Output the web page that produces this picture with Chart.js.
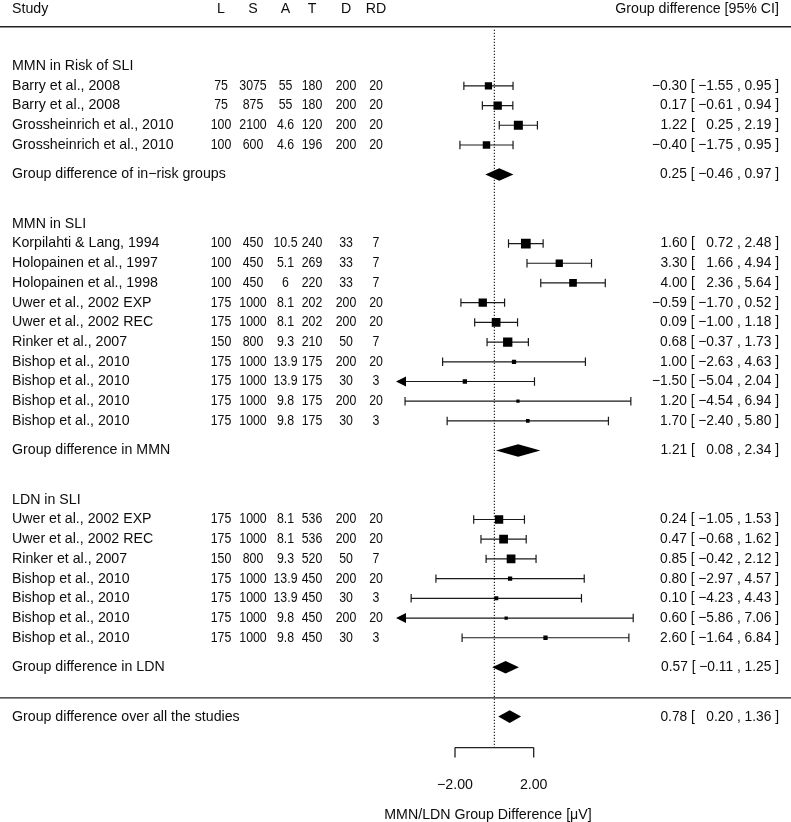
<!DOCTYPE html>
<html>
<head>
<meta charset="utf-8">
<title>MMN/LDN group difference forest plot</title>
<script src="https://cdn.jsdelivr.net/npm/chart.js@4.4.1/dist/chart.umd.min.js"></script>
<style>
    html, body { margin: 0; padding: 0; background: #fff; }
    #wrap { width: 791px; height: 822px; position: relative; }
</style>
</head>
<body>
<div id="wrap"><canvas id="forest"></canvas></div>
<script>
// --- Data ---
const columnHeaders = ['L', 'S', 'A', 'T', 'D', 'RD'];
const sectionTitles = ['MMN in Risk of SLI', 'MMN in SLI', 'LDN in SLI'];
const sectionSizes = [4, 10, 7];
const summaryTitles = ['Group difference of in\u2212risk groups', 'Group difference in MMN', 'Group difference in LDN'];

const studies = [
    'Barry et al., 2008', 'Barry et al., 2008', 'Grossheinrich et al., 2010', 'Grossheinrich et al., 2010',
    'Korpilahti & Lang, 1994', 'Holopainen et al., 1997', 'Holopainen et al., 1998',
    'Uwer et al., 2002 EXP', 'Uwer et al., 2002 REC', 'Rinker et al., 2007',
    'Bishop et al., 2010', 'Bishop et al., 2010', 'Bishop et al., 2010', 'Bishop et al., 2010',
    'Uwer et al., 2002 EXP', 'Uwer et al., 2002 REC', 'Rinker et al., 2007',
    'Bishop et al., 2010', 'Bishop et al., 2010', 'Bishop et al., 2010', 'Bishop et al., 2010'
];
const colL = ['75', '75', '100', '100', '100', '100', '100', '175', '175', '150', '175', '175', '175', '175', '175', '175', '150', '175', '175', '175', '175'];
const colS = ['3075', '875', '2100', '600', '450', '450', '450', '1000', '1000', '800', '1000', '1000', '1000', '1000', '1000', '1000', '800', '1000', '1000', '1000', '1000'];
const colA = ['55', '55', '4.6', '4.6', '10.5', '5.1', '6', '8.1', '8.1', '9.3', '13.9', '13.9', '9.8', '9.8', '8.1', '8.1', '9.3', '13.9', '13.9', '9.8', '9.8'];
const colT = ['180', '180', '120', '196', '240', '269', '220', '202', '202', '210', '175', '175', '175', '175', '536', '536', '520', '450', '450', '450', '450'];
const colD = ['200', '200', '200', '200', '33', '33', '33', '200', '200', '50', '200', '30', '200', '30', '200', '200', '50', '200', '30', '200', '30'];
const colRD = ['20', '20', '20', '20', '7', '7', '7', '20', '20', '7', '20', '3', '20', '3', '20', '20', '7', '20', '3', '20', '3'];

const estimate = [-0.30, 0.17, 1.22, -0.40, 1.60, 3.30, 4.00, -0.59, 0.09, 0.68, 1.00, -1.50, 1.20, 1.70, 0.24, 0.47, 0.85, 0.80, 0.10, 0.60, 2.60];
const ciLower = [-1.55, -0.61, 0.25, -1.75, 0.72, 1.66, 2.36, -1.70, -1.00, -0.37, -2.63, -5.04, -4.54, -2.40, -1.05, -0.68, -0.42, -2.97, -4.23, -5.86, -1.64];
const ciUpper = [0.95, 0.94, 2.19, 0.95, 2.48, 4.94, 5.64, 0.52, 1.18, 1.73, 4.63, 2.04, 6.94, 5.80, 1.53, 1.62, 2.12, 4.57, 4.43, 7.06, 6.84];
// relative study weight (largest = 100), drives square size
const weight = [75, 86, 93, 77, 100, 75, 79, 86, 90, 96, 44, 44, 34, 38, 86, 90, 90, 44, 41, 34, 44];

const groupEstimate = [0.25, 1.21, 0.57];
const groupLower = [-0.46, 0.08, -0.11];
const groupUpper = [0.97, 2.34, 1.25];

const overallTitle = 'Group difference over all the studies';
const overallEstimate = 0.78;
const overallLower = 0.20;
const overallUpper = 1.36;

const xTicks = [-2, 2];
const xTitle = 'MMN/LDN Group Difference [\u03bcV]';

// --- Layout (rows, metafor style) ---
const studyRows = [];
const headingRows = [];
const summaryRows = [];
let r = -1;
sectionSizes.forEach(n => {
    headingRows.push(r);
    for (let i = 0; i < n; i++) studyRows.push(r + 1 + i);
    r += n;
    summaryRows.push(r + 1.5);
    r += 4;
});
const separatorRow = summaryRows[summaryRows.length - 1] + 1.55;
const overallRow = summaryRows[summaryRows.length - 1] + 2.5;

const FONT = '14.2px "Liberation Sans", Arial, sans-serif';
const INK = '#0d0d0d';
const colX = [221, 253, 285.5, 312, 346, 376];
const NUM_SQUEEZE = 0.87;   // digits in the original are narrower than Liberation's
const ALIM = -5;

const fmt = v => (v < 0 ? '\u2212' : '') + Math.abs(v).toFixed(2);
const ciText = (e, lo, hi) => `${fmt(e)} [ ${lo < 0 ? '' : '  '}${fmt(lo)} , ${fmt(hi)} ]`;

const forestPlugin = {
    id: 'forest',
    beforeDatasetsDraw(chart) {
        const { ctx, scales: { x, y } } = chart;
        ctx.save();

        // reference line at zero
        ctx.strokeStyle = '#111';
        ctx.lineWidth = 1.1;
        ctx.setLineDash([1.2, 1.8]);
        ctx.beginPath();
        ctx.moveTo(x.getPixelForValue(0), y.getPixelForValue(-2.84));
        ctx.lineTo(x.getPixelForValue(0), y.getPixelForValue(33.57));
        ctx.stroke();
        ctx.setLineDash([]);

        // confidence intervals
        ctx.strokeStyle = '#1a1a1a';
        ctx.fillStyle = '#000';
        ctx.lineWidth = 1.2;
        estimate.forEach((e, i) => {
            const py = y.getPixelForValue(studyRows[i]);
            const clipped = ciLower[i] < ALIM;
            const x0 = x.getPixelForValue(clipped ? ALIM : ciLower[i]);
            const x1 = x.getPixelForValue(ciUpper[i]);
            ctx.beginPath();
            ctx.moveTo(clipped ? x0 + 8 : x0, py);
            ctx.lineTo(x1, py);
            ctx.moveTo(x1, py - 4.2);
            ctx.lineTo(x1, py + 4.2);
            if (!clipped) {
                ctx.moveTo(x0, py - 4.2);
                ctx.lineTo(x0, py + 4.2);
            }
            ctx.stroke();
            if (clipped) {
                ctx.beginPath();
                ctx.moveTo(x0, py);
                ctx.lineTo(x0 + 10, py - 5);
                ctx.lineTo(x0 + 10, py + 5);
                ctx.closePath();
                ctx.fill();
            }
        });
        ctx.restore();
    },
    afterDatasetsDraw(chart) {
        const { ctx, width, scales: { x, y } } = chart;
        ctx.save();
        ctx.font = FONT;
        ctx.fillStyle = INK;
        ctx.textBaseline = 'middle';

        const text = (s, px, row, align, squeeze = 1) => {
            ctx.save();
            ctx.translate(px, y.getPixelForValue(row));
            ctx.scale(squeeze, 1);
            ctx.textAlign = align;
            ctx.fillText(s, 0, 0);
            ctx.restore();
        };
        const diamond = (e, lo, hi, row) => {
            const py = y.getPixelForValue(row);
            ctx.beginPath();
            ctx.moveTo(x.getPixelForValue(lo), py);
            ctx.lineTo(x.getPixelForValue(e), py - 6.3);
            ctx.lineTo(x.getPixelForValue(hi), py);
            ctx.lineTo(x.getPixelForValue(e), py + 6.3);
            ctx.closePath();
            ctx.fill();
        };

        // header
        const headRow = -3.9;
        text('Study', 12, headRow, 'left');
        columnHeaders.forEach((h, c) => text(h, colX[c], headRow, 'center'));
        text('Group difference [95% CI]', 779, headRow, 'right');

        // horizontal rules
        ctx.strokeStyle = '#222';
        ctx.lineWidth = 1.4;
        [-3, separatorRow].forEach(row => {
            const py = y.getPixelForValue(row);
            ctx.beginPath();
            ctx.moveTo(0, py);
            ctx.lineTo(width, py);
            ctx.stroke();
        });

        // sections
        sectionTitles.forEach((t, s) => text(t, 12, headingRows[s], 'left'));
        studies.forEach((name, i) => {
            const row = studyRows[i];
            text(name, 12, row, 'left');
            [colL, colS, colA, colT, colD, colRD].forEach((col, c) => text(col[i], colX[c], row, 'center', NUM_SQUEEZE));
            text(ciText(estimate[i], ciLower[i], ciUpper[i]), 779, row, 'right', 0.97);
        });

        // subgroup and overall summaries
        ctx.fillStyle = '#000';
        summaryTitles.forEach((t, s) => {
            diamond(groupEstimate[s], groupLower[s], groupUpper[s], summaryRows[s]);
        });
        diamond(overallEstimate, overallLower, overallUpper, overallRow);
        ctx.fillStyle = INK;
        summaryTitles.forEach((t, s) => {
            text(t, 12, summaryRows[s], 'left');
            text(ciText(groupEstimate[s], groupLower[s], groupUpper[s]), 779, summaryRows[s], 'right', 0.97);
        });
        text(overallTitle, 12, overallRow, 'left');
        text(ciText(overallEstimate, overallLower, overallUpper), 779, overallRow, 'right', 0.97);

        // bracket axis
        const axisY = y.getPixelForValue(33.57);
        const xa = x.getPixelForValue(xTicks[0]);
        const xb = x.getPixelForValue(xTicks[xTicks.length - 1]);
        ctx.strokeStyle = '#222';
        ctx.lineWidth = 1.3;
        ctx.beginPath();
        ctx.moveTo(xa, axisY);
        ctx.lineTo(xb, axisY);
        xTicks.forEach(t => {
            const px = x.getPixelForValue(t);
            ctx.moveTo(px, axisY);
            ctx.lineTo(px, axisY + 10);
        });
        ctx.stroke();
        xTicks.forEach(t => text(fmt(t), x.getPixelForValue(t), 35.45, 'center'));
        text(xTitle, 488, 37.0, 'center');

        ctx.restore();
    }
};

new Chart(document.getElementById('forest'), {
    type: 'scatter',
    data: {
        datasets: [{
            label: 'Studies',
            data: estimate.map((e, i) => ({ x: e, y: studyRows[i] })),
            pointStyle: 'rect',
            pointRadius: weight.map(w => (9.7 * w / 100) / Math.SQRT2),
            backgroundColor: '#000',
            borderWidth: 0
        }]
    },
    options: {
        responsive: true,
        maintainAspectRatio: false,
        animation: false,
        events: [],
        layout: { padding: { left: 396, right: 157, top: 7, bottom: 5.25 } },
        plugins: { legend: { display: false }, tooltip: { enabled: false } },
        scales: {
            x: { type: 'linear', min: ALIM, max: 7.1, display: false },
            y: { type: 'linear', min: -4, max: 37, reverse: true, display: false }
        }
    },
    plugins: [forestPlugin]
});
</script>
</body>
</html>
